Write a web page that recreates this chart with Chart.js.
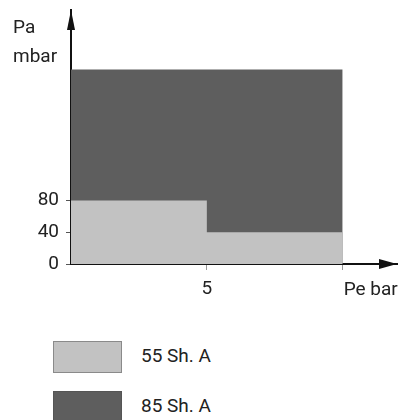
<!DOCTYPE html>
<html>
<head>
<meta charset="utf-8">
<script src="https://cdn.jsdelivr.net/npm/chart.js@4"></script>
<style>
  body { margin: 0; background: #fff; font-family: Roboto, sans-serif; }
  #wrap { position: absolute; left: 0; top: 0; width: 398px; height: 300px; }
  .key { position: absolute; left: 53px; width: 67px; height: 30px; border: 1px solid #8a8a8a; }
  .lbl { position: absolute; left: 141px; font-size: 19px; color: #222; line-height: 22px; }
</style>
</head>
<body>
<div id="wrap"><canvas id="myChart"></canvas></div>

<div class="key" style="top:341px; background:#c2c2c2;"></div>
<div class="lbl" style="top:345px;">55 Sh. A</div>
<div class="key" style="top:391px; background:#5e5e5e; border-color:#555;"></div>
<div class="lbl" style="top:395px;">85 Sh. A</div>

<script>
// Pe (bar) where the limit changes
const pressure = [0, 5, 10];
// max Pa (mbar) for each compound
const soft55 = [80, 40, 40];
const hard85 = [245, 245, 245];

const yTicks = [0, 40, 80];
const xTicks = [5, 10];
const xTickLabels = ['5', ''];

const series = (ys) => pressure.map((x, i) => ({ x: x, y: ys[i] }));

// axis names + arrow heads
const axisExtras = {
  id: 'axisExtras',
  afterDraw(chart) {
    const c = chart.ctx;
    const a = chart.chartArea;
    c.save();
    c.fillStyle = '#111';
    // y arrow
    c.beginPath();
    c.moveTo(a.left, a.top);
    c.lineTo(a.left - 4, a.top + 20);
    c.lineTo(a.left + 4, a.top + 20);
    c.closePath();
    c.fill();
    // x arrow
    c.beginPath();
    c.moveTo(a.right, a.bottom);
    c.lineTo(a.right - 18, a.bottom - 5);
    c.lineTo(a.right - 18, a.bottom + 5);
    c.closePath();
    c.fill();

    c.fillStyle = '#222';
    c.font = '19px Roboto';
    c.textAlign = 'left';
    c.textBaseline = 'alphabetic';
    c.fillText('Pa', 13, 33);
    c.fillText('mbar', 13, 62);
    const xs = chart.scales.x;
    c.fillText('Pe bar', xs.getPixelForValue(10) + 1, 295);
    c.restore();
  }
};

const ctx = document.getElementById('myChart').getContext('2d');

new Chart(ctx, {
  type: 'line',
  data: {
    datasets: [
      {
        label: '55 Sh. A',
        data: series(soft55),
        stepped: 'before',
        fill: 'origin',
        backgroundColor: '#c2c2c2',
        borderWidth: 0,
        pointRadius: 0
      },
      {
        label: '85 Sh. A',
        data: series(hard85),
        stepped: 'before',
        fill: 'origin',
        backgroundColor: '#5e5e5e',
        borderWidth: 0,
        pointRadius: 0
      }
    ]
  },
  plugins: [axisExtras],
  options: {
    responsive: true,
    maintainAspectRatio: false,
    animation: false,
    layout: { padding: { top: 10, right: 1, left: 0, bottom: 0 } },
    plugins: {
      legend: { display: false },
      tooltip: { enabled: false }
    },
    scales: {
      x: {
        type: 'linear',
        min: 0,
        max: 12,
        afterBuildTicks: (s) => { s.ticks = xTicks.map(v => ({ value: v })); },
        afterFit: (s) => { s.height = 36; s.paddingLeft = 0; s.paddingRight = 0; },
        ticks: {
          callback: (v) => xTickLabels[xTicks.indexOf(v)],
          color: '#222',
          font: { family: 'Roboto', size: 19 },
          padding: 8,
          maxRotation: 0
        },
        grid: { drawOnChartArea: false, tickLength: 6, tickColor: '#999' },
        border: { color: '#111', width: 2 }
      },
      y: {
        min: 0,
        max: 320,
        afterBuildTicks: (s) => { s.ticks = yTicks.map(v => ({ value: v })); },
        afterFit: (s) => { s.width = 71; s.paddingTop = 0; s.paddingBottom = 0; },
        ticks: {
          color: '#222',
          font: { family: 'Roboto', size: 19 },
          padding: 7
        },
        grid: { drawOnChartArea: false, tickLength: 5, tickColor: '#555' },
        border: { color: '#111', width: 2 }
      }
    }
  }
});
</script>
</body>
</html>
